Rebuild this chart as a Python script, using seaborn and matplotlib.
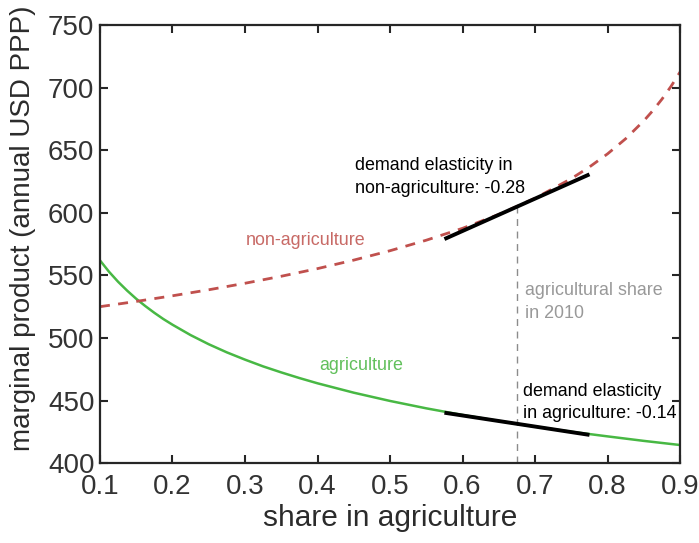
import matplotlib
matplotlib.use("Agg")
import matplotlib.pyplot as plt
import seaborn as sns
import pandas as pd

# share of labour in agriculture (agricultural curve)
share_agri = [0.10, 0.1125, 0.125, 0.1375, 0.15, 0.1625, 0.175, 0.1875, 0.20, 0.225,
              0.25, 0.275, 0.30, 0.325, 0.35, 0.375, 0.40, 0.45, 0.50, 0.55, 0.60,
              0.65, 0.70, 0.75, 0.80, 0.85, 0.90]

# marginal product in agriculture (annual USD PPP)
mp_agri = [562.0, 552.9, 544.9, 537.8, 531.3, 525.5, 520.1, 515.1, 510.6, 502.3,
           495.0, 488.5, 482.7, 477.3, 472.5, 468.0, 463.8, 456.3, 449.7, 443.8, 438.5,
           433.7, 429.2, 425.1, 421.4, 417.8, 414.5]

# share of labour in agriculture (non-agricultural curve)
share_nonagri = [0.10, 0.15, 0.20, 0.25, 0.30, 0.35, 0.40, 0.45, 0.50, 0.55, 0.60,
                 0.65, 0.70, 0.75, 0.775, 0.80, 0.825, 0.85, 0.8625, 0.875, 0.8875, 0.90]

# marginal product outside agriculture (annual USD PPP)
mp_nonagri = [525.0, 529.2, 533.7, 538.5, 543.7, 549.3, 555.4, 562.2, 569.7, 578.1, 587.6,
              598.7, 611.6, 627.3, 636.6, 647.1, 659.2, 673.5, 681.7, 690.8, 701.0, 712.5]

# agricultural share in 2010 and value of the non-agricultural curve there
share_2010 = 0.675
mp_nonagri_2010 = 604.9

# tangent segments (demand elasticities) around the 2010 share
tangent_x = [0.575, 0.775]
tangent_agri = [440.3, 422.6]
tangent_nonagri = [579.0, 630.7]

df_agri = pd.DataFrame({"share": share_agri, "mp": mp_agri})
df_nonagri = pd.DataFrame({"share": share_nonagri, "mp": mp_nonagri})

sns.set_theme(style="white")
plt.rcParams["font.family"] = ["Liberation Sans", "DejaVu Sans"]

fig = plt.figure(figsize=(6.99, 5.43), dpi=100)
ax = fig.add_axes([0.143, 0.147, 0.830, 0.807])

green = "#48b844"
red = "#c0504d"

sns.lineplot(data=df_agri, x="share", y="mp", ax=ax, color=green, linewidth=1.8,
             estimator=None, sort=True)
sns.lineplot(data=df_nonagri, x="share", y="mp", ax=ax, color=red, linewidth=2.0,
             estimator=None, sort=True)
ax.lines[-1].set_dashes((3.6, 3.0))

# vertical marker at the 2010 agricultural share
ax.plot([share_2010, share_2010], [400, mp_nonagri_2010], color="#8c8c8c",
        linewidth=1.0, dashes=(5, 4), zorder=1)

# tangents
ax.plot(tangent_x, tangent_agri, color="black", linewidth=2.8, solid_capstyle="butt", zorder=3)
ax.plot(tangent_x, tangent_nonagri, color="black", linewidth=2.8, solid_capstyle="butt", zorder=3)

ann = 12.9
ax.text(0.384, 578.2, "non-agriculture", color="#c86a66", fontsize=ann,
        ha="center", va="center")
ax.text(0.402, 478.3, "agriculture", color="#62c05c", fontsize=ann,
        ha="left", va="center")
ax.text(0.452, 628.5, "demand elasticity in\nnon-agriculture: -0.28", color="black",
        fontsize=ann, ha="left", va="center", linespacing=1.4)
ax.text(0.686, 528.7, "agricultural share\nin 2010", color="#999999",
        fontsize=ann, ha="left", va="center", linespacing=1.4)
ax.text(0.683, 448.7, "demand elasticity\nin agriculture: -0.14", color="black",
        fontsize=ann, ha="left", va="center", linespacing=1.4)

ax.set_xlim(0.1, 0.9)
ax.set_ylim(400, 750)
ax.set_xticks([0.1, 0.2, 0.3, 0.4, 0.5, 0.6, 0.7, 0.8, 0.9])
ax.set_xticklabels(["0.1", "0.2", "0.3", "0.4", "0.5", "0.6", "0.7", "0.8", "0.9"])
ax.set_yticks([400, 450, 500, 550, 600, 650, 700, 750])

ax.set_xlabel("share in agriculture", fontsize=21.5, color="#2b2b2b", labelpad=3)
ax.set_ylabel("marginal product (annual USD PPP)", fontsize=20, color="#2b2b2b")
ax.yaxis.set_label_coords(-0.11, 0.535)

for s in ax.spines.values():
    s.set_visible(True)
    s.set_color("#262626")
    s.set_linewidth(1.6)

ax.tick_params(direction="in", length=6, width=1.5, colors="#262626",
               labelsize=20, top=True, right=True, bottom=True, left=True,
               labelcolor="#333333")
ax.tick_params(axis="x", pad=8)
ax.tick_params(axis="y", pad=4)

fig.savefig("out.png", dpi=100)
